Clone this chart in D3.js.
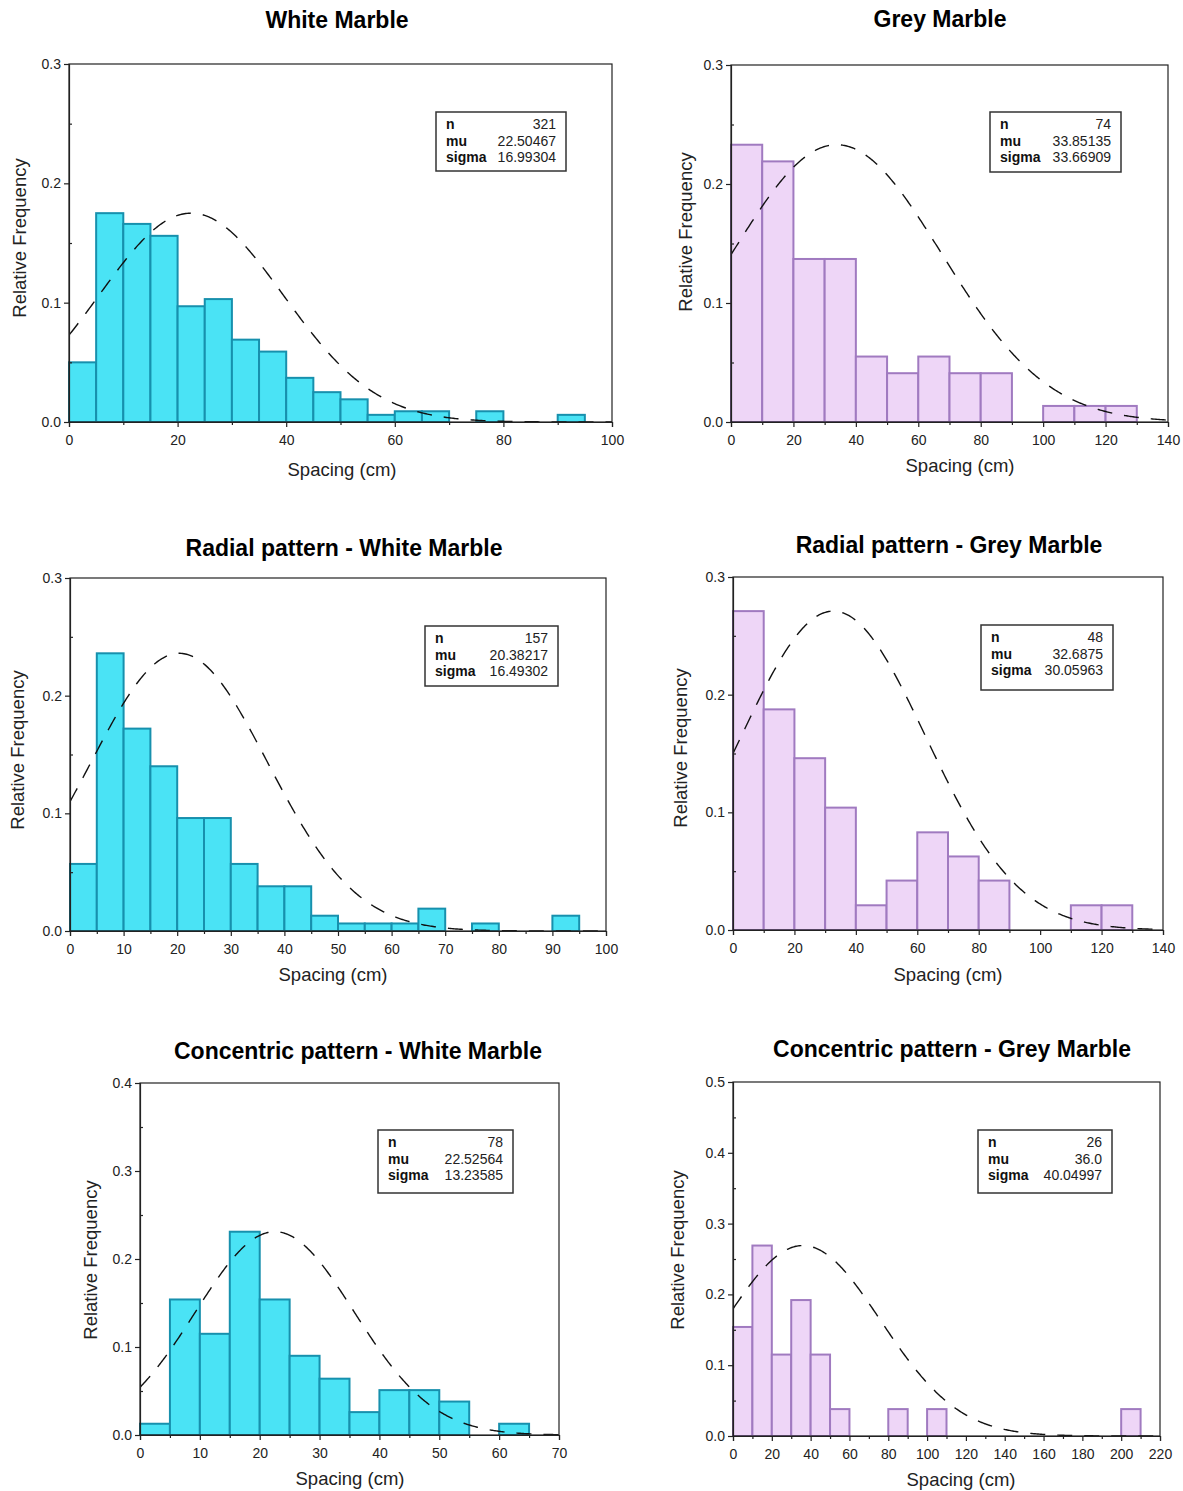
<!DOCTYPE html>
<html>
<head>
<meta charset="utf-8">
<script src="https://cdn.jsdelivr.net/npm/d3@7"></script>
<style>
  html, body { margin: 0; padding: 0; background: #fff; }
  svg { display: block; font-family: "Liberation Sans", Arial, sans-serif; }
</style>
</head>
<body>
<svg id="chart" width="1183" height="1491"></svg>
<script>
// ---------------- DATA ----------------
const titles = [
  "White Marble", "Grey Marble",
  "Radial pattern - White Marble", "Radial pattern - Grey Marble",
  "Concentric pattern - White Marble", "Concentric pattern - Grey Marble"
];
const xAxisLabel = "Spacing (cm)";
const yAxisLabel = "Relative Frequency";
const statLabels = ["n", "mu", "sigma"];

const statN     = ["321", "74", "157", "48", "78", "26"];
const statMu    = ["22.50467", "33.85135", "20.38217", "32.6875", "22.52564", "36.0"];
const statSigma = ["16.99304", "33.66909", "16.49302", "30.05963", "13.23585", "40.04997"];

const binWidth = [5, 10, 5, 10, 5, 10];
const xMax     = [100, 140, 100, 140, 70, 220];
const yMax     = [0.3, 0.3, 0.3, 0.3, 0.4, 0.5];
const xTickStep = [20, 20, 10, 20, 10, 20];
const yTickStep = [0.1, 0.1, 0.1, 0.1, 0.1, 0.1];

// relative frequency per bin, starting at 0 cm
const freqWhite = [0.050, 0.175, 0.166, 0.156, 0.097, 0.103, 0.069, 0.059, 0.037, 0.025,
                   0.019, 0.006, 0.009, 0.009, 0, 0.009, 0, 0, 0.006];
const freqGrey  = [0.233, 0.219, 0.137, 0.137, 0.055, 0.041, 0.055, 0.041, 0.041, 0,
                   0.0135, 0.0135, 0.0135];
const freqRadialWhite = [0.057, 0.236, 0.172, 0.140, 0.096, 0.096, 0.057, 0.038, 0.038, 0.013,
                         0.0064, 0.0064, 0.0064, 0.019, 0, 0.0064, 0, 0, 0.013];
const freqRadialGrey  = [0.271, 0.1875, 0.146, 0.104, 0.021, 0.042, 0.083, 0.0625, 0.042, 0, 0,
                         0.021, 0.021];
const freqConcWhite = [0.0128, 0.154, 0.115, 0.231, 0.154, 0.090, 0.064, 0.026, 0.051, 0.051,
                       0.038, 0, 0.0128];
const freqConcGrey  = [0.154, 0.269, 0.115, 0.192, 0.115, 0.038, 0, 0, 0.038, 0, 0.038,
                       0, 0, 0, 0, 0, 0, 0, 0, 0, 0.038];

const freqs = [freqWhite, freqGrey, freqRadialWhite, freqRadialGrey, freqConcWhite, freqConcGrey];
const palette = [
  { fill: "#4ae3f5", stroke: "#1790ad" },   // white marble (cyan)
  { fill: "#eed6f7", stroke: "#a07ac0" }    // grey marble (lilac)
];

// ---------------- LAYOUT ----------------
const layout = [
  { l: 69,  r: 612,  t: 64,   b: 422,  tx: 337, ty: 28,   box: [436, 112, 130, 59], ylx: 26,  yly: 238,  xlx: 342, xly: 476 },
  { l: 731, r: 1168, t: 65,   b: 422,  tx: 940, ty: 27,   box: [990, 112, 131, 60], ylx: 692, yly: 232,  xlx: 960, xly: 472 },
  { l: 70,  r: 606,  t: 578,  b: 931,  tx: 344, ty: 556,  box: [425, 626, 133, 60], ylx: 24,  yly: 750,  xlx: 333, xly: 981 },
  { l: 733, r: 1163, t: 577,  b: 930,  tx: 949, ty: 553,  box: [981, 625, 132, 65], ylx: 687, yly: 748,  xlx: 948, xly: 981 },
  { l: 140, r: 559,  t: 1083, b: 1435, tx: 358, ty: 1059, box: [378, 1130, 135, 63], ylx: 97, yly: 1260, xlx: 350, xly: 1485 },
  { l: 733, r: 1160, t: 1082, b: 1436, tx: 952, ty: 1057, box: [978, 1130, 134, 63], ylx: 684, yly: 1250, xlx: 961, xly: 1486 }
];

const svg = d3.select("#chart");

layout.forEach((L, i) => {
  const g = svg.append("g");
  const col = palette[i % 2];
  const x = d3.scaleLinear().domain([0, xMax[i]]).range([L.l, L.r]);
  const y = d3.scaleLinear().domain([0, yMax[i]]).range([L.b, L.t]);
  const w = binWidth[i];
  const mu = +statMu[i], sigma = +statSigma[i];
  const vals = freqs[i];
  const bins = vals.map((v, k) => ({ x0: k * w, x1: (k + 1) * w, v }));

  const clipId = "clip" + i;
  svg.append("clipPath").attr("id", clipId)
    .append("rect").attr("x", L.l).attr("y", L.t).attr("width", L.r - L.l).attr("height", L.b - L.t);

  // bars
  g.append("g").selectAll("rect").data(bins.filter(d => d.v > 0)).join("rect")
    .attr("x", d => x(d.x0))
    .attr("y", d => y(d.v))
    .attr("width", d => x(d.x1) - x(d.x0))
    .attr("height", d => y(0) - y(d.v))
    .attr("fill", col.fill)
    .attr("stroke", col.stroke)
    .attr("stroke-width", 2);

  // fitted normal curve (mu, sigma from the stats box), scaled to the tallest bar
  const peak = d3.max(vals);
  const xs = d3.range(0, xMax[i] + 0.001, xMax[i] / 400);
  const curve = xs.map(t => [t, peak * Math.exp(-((t - mu) ** 2) / (2 * sigma * sigma))]);
  g.append("path")
    .datum(curve)
    .attr("clip-path", `url(#${clipId})`)
    .attr("d", d3.line().x(d => x(d[0])).y(d => y(d[1])))
    .attr("fill", "none")
    .attr("stroke", "#111")
    .attr("stroke-width", 1.4)
    .attr("stroke-dasharray", "15,12");

  // frame
  g.append("rect")
    .attr("x", L.l).attr("y", L.t).attr("width", L.r - L.l).attr("height", L.b - L.t)
    .attr("fill", "none").attr("stroke", "#222").attr("stroke-width", 1.2);

  // x axis
  const xt = d3.range(0, xMax[i] + 0.001, xTickStep[i]);
  g.append("g").attr("transform", `translate(0,${L.b})`)
    .call(d3.axisBottom(x).tickValues(xt).tickFormat(d3.format("d")).tickSize(5).tickPadding(8));
  const xMinor = d3.range(xTickStep[i] / 2, xMax[i], xTickStep[i]);
  g.append("g").attr("transform", `translate(0,${L.b})`)
    .call(d3.axisBottom(x).tickValues(xMinor).tickFormat("").tickSize(3))
    .call(s => s.select(".domain").remove());

  // y axis
  const yt = d3.range(0, yMax[i] + 1e-9, yTickStep[i]);
  g.append("g").attr("transform", `translate(${L.l},0)`)
    .call(d3.axisLeft(y).tickValues(yt).tickFormat(d3.format(".1f")).tickSize(5).tickPadding(3));
  const yMinor = d3.range(yTickStep[i] / 2, yMax[i], yTickStep[i]);
  g.append("g").attr("transform", `translate(${L.l},0)`)
    .call(d3.axisRight(y).tickValues(yMinor).tickFormat("").tickSize(3))
    .call(s => s.select(".domain").remove());

  g.selectAll(".tick text").attr("font-size", 14).attr("fill", "#222")
    .attr("font-family", "Liberation Sans, Arial, sans-serif");
  g.selectAll(".domain, .tick line").attr("stroke", "#222").attr("stroke-width", 1.2);

  // title
  g.append("text").attr("x", L.tx).attr("y", L.ty).attr("text-anchor", "middle")
    .attr("font-size", 23).attr("font-weight", "bold").attr("fill", "#000").text(titles[i]);

  // axis labels
  g.append("text").attr("x", L.xlx).attr("y", L.xly).attr("text-anchor", "middle")
    .attr("font-size", 18.5).attr("fill", "#222").text(xAxisLabel);
  g.append("text").attr("transform", `translate(${L.ylx},${L.yly}) rotate(-90)`)
    .attr("text-anchor", "middle").attr("font-size", 18.5).attr("fill", "#222").text(yAxisLabel);

  // stats box
  const [bx, by, bw, bh] = L.box;
  g.append("rect").attr("x", bx).attr("y", by).attr("width", bw).attr("height", bh)
    .attr("fill", "#fff").attr("stroke", "#333").attr("stroke-width", 1.5);
  const statVals = [statN[i], statMu[i], statSigma[i]];
  statLabels.forEach((lab, k) => {
    const ty = by + 17 + k * 16.5;
    g.append("text").attr("x", bx + 10).attr("y", ty).attr("font-size", 14)
      .attr("font-weight", "bold").attr("fill", "#111").text(lab);
    g.append("text").attr("x", bx + bw - 10).attr("y", ty).attr("font-size", 14)
      .attr("text-anchor", "end").attr("fill", "#222").text(statVals[k]);
  });
});
</script>
</body>
</html>
